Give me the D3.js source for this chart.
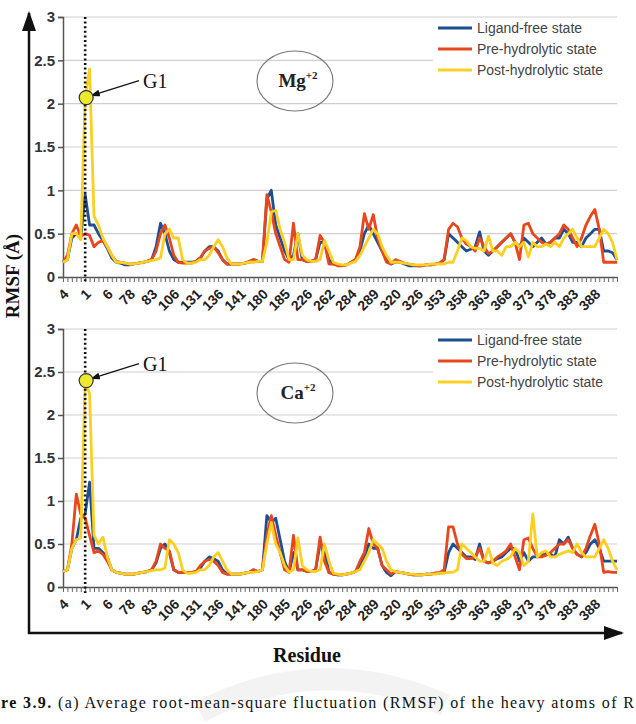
<!DOCTYPE html>
<html>
<head>
<meta charset="utf-8">
<script src="https://cdn.jsdelivr.net/npm/d3@7"></script>
<style>
  body { margin: 0; background: #fff; }
  svg { display: block; }
</style>
</head>
<body>
<div id="chart"></div>
<script>
// residue tick labels, one every 5th category
var tickLabels = ["4", "1", "6", "78", "83", "106", "131", "136", "141", "180", "185", "226", "262",
  "284", "289", "320", "326", "353", "358", "363", "368", "373", "378", "383", "388"];
var seriesNames = ["Ligand-free state", "Pre-hydrolytic state", "Post-hydrolytic state"];
var seriesColors = ["#1d4f91", "#e8471d", "#fbd022"];

// Mg+2 panel
var mgFree = [0.17,0.2,0.45,0.5,0.45,0.95,0.6,0.6,0.5,0.42,
  0.33,0.22,0.17,0.16,0.14,0.14,0.15,0.16,0.17,0.18,
  0.2,0.35,0.62,0.5,0.3,0.2,0.17,0.17,0.17,0.17,
  0.18,0.22,0.3,0.35,0.35,0.3,0.2,0.15,0.15,0.15,
  0.15,0.16,0.17,0.2,0.18,0.18,0.9,1.0,0.6,0.45,
  0.3,0.2,0.25,0.5,0.2,0.18,0.18,0.2,0.4,0.4,
  0.2,0.15,0.14,0.13,0.14,0.17,0.2,0.3,0.5,0.6,
  0.5,0.4,0.3,0.2,0.15,0.17,0.17,0.15,0.13,0.13,
  0.13,0.13,0.14,0.14,0.15,0.16,0.2,0.5,0.45,0.4,
  0.35,0.3,0.32,0.35,0.52,0.3,0.25,0.3,0.35,0.4,
  0.45,0.5,0.4,0.35,0.45,0.4,0.35,0.4,0.45,0.38,
  0.4,0.45,0.45,0.55,0.5,0.4,0.4,0.35,0.45,0.5,
  0.55,0.55,0.3,0.3,0.28,0.2];
var mgPre = [0.17,0.25,0.5,0.6,0.47,0.5,0.48,0.35,0.4,0.42,
  0.35,0.25,0.18,0.17,0.16,0.15,0.15,0.16,0.17,0.18,
  0.2,0.3,0.5,0.6,0.45,0.25,0.17,0.16,0.16,0.16,
  0.18,0.22,0.3,0.33,0.35,0.28,0.2,0.15,0.15,0.15,
  0.15,0.16,0.18,0.2,0.18,0.18,0.95,0.75,0.5,0.35,
  0.2,0.17,0.62,0.2,0.2,0.18,0.18,0.2,0.48,0.4,
  0.15,0.15,0.13,0.13,0.14,0.17,0.2,0.35,0.73,0.55,
  0.72,0.45,0.3,0.17,0.15,0.2,0.18,0.16,0.15,0.14,
  0.13,0.13,0.14,0.14,0.15,0.16,0.2,0.55,0.62,0.58,
  0.45,0.38,0.35,0.3,0.45,0.35,0.27,0.3,0.35,0.4,
  0.45,0.5,0.4,0.2,0.6,0.62,0.5,0.45,0.4,0.38,
  0.4,0.45,0.5,0.6,0.55,0.45,0.35,0.45,0.6,0.7,
  0.78,0.55,0.17,0.17,0.17,0.17];
var mgPost = [0.17,0.2,0.5,0.5,0.43,2.07,2.4,0.7,0.6,0.45,
  0.35,0.25,0.17,0.17,0.16,0.15,0.15,0.16,0.17,0.18,
  0.19,0.2,0.22,0.5,0.55,0.45,0.45,0.2,0.16,0.16,
  0.17,0.2,0.2,0.25,0.35,0.43,0.35,0.22,0.15,0.15,
  0.15,0.16,0.17,0.17,0.18,0.18,0.4,0.75,0.77,0.55,
  0.4,0.2,0.2,0.5,0.25,0.2,0.18,0.18,0.2,0.42,
  0.3,0.17,0.15,0.14,0.14,0.16,0.18,0.25,0.35,0.45,
  0.55,0.5,0.35,0.25,0.17,0.17,0.17,0.16,0.15,0.14,
  0.14,0.14,0.14,0.15,0.15,0.15,0.15,0.17,0.17,0.3,
  0.45,0.42,0.35,0.33,0.33,0.3,0.47,0.3,0.3,0.25,
  0.35,0.35,0.4,0.35,0.4,0.23,0.4,0.35,0.35,0.38,
  0.35,0.4,0.35,0.45,0.5,0.55,0.45,0.35,0.35,0.35,
  0.35,0.45,0.55,0.5,0.4,0.2];

// Ca+2 panel
var caFree = [0.18,0.2,0.45,0.55,0.8,0.85,1.22,0.45,0.45,0.4,
  0.35,0.2,0.17,0.16,0.15,0.15,0.15,0.16,0.17,0.18,
  0.2,0.28,0.45,0.5,0.4,0.2,0.17,0.17,0.17,0.17,
  0.18,0.22,0.3,0.35,0.33,0.3,0.2,0.15,0.15,0.15,
  0.15,0.16,0.17,0.2,0.18,0.2,0.83,0.75,0.8,0.55,
  0.3,0.17,0.4,0.2,0.2,0.18,0.18,0.2,0.5,0.45,
  0.17,0.15,0.14,0.14,0.15,0.16,0.18,0.25,0.35,0.5,
  0.45,0.45,0.25,0.17,0.13,0.18,0.17,0.16,0.15,0.14,
  0.14,0.14,0.15,0.15,0.16,0.16,0.17,0.4,0.5,0.45,
  0.4,0.35,0.35,0.32,0.5,0.3,0.28,0.3,0.33,0.35,
  0.4,0.45,0.45,0.3,0.4,0.3,0.35,0.35,0.38,0.4,
  0.38,0.35,0.55,0.5,0.58,0.45,0.38,0.35,0.4,0.5,
  0.55,0.45,0.3,0.3,0.3,0.3];
var caPre = [0.18,0.2,0.5,1.08,0.85,0.8,0.6,0.4,0.42,0.38,
  0.3,0.2,0.17,0.16,0.15,0.15,0.15,0.16,0.17,0.18,
  0.2,0.3,0.5,0.45,0.42,0.2,0.17,0.17,0.17,0.17,
  0.18,0.25,0.3,0.32,0.3,0.25,0.17,0.15,0.15,0.15,
  0.15,0.16,0.17,0.2,0.18,0.2,0.6,0.83,0.6,0.4,
  0.2,0.17,0.6,0.2,0.2,0.18,0.18,0.2,0.58,0.3,
  0.17,0.15,0.14,0.14,0.15,0.16,0.18,0.3,0.4,0.68,
  0.5,0.45,0.25,0.2,0.15,0.18,0.17,0.16,0.15,0.14,
  0.14,0.14,0.15,0.15,0.16,0.17,0.2,0.7,0.7,0.5,
  0.38,0.33,0.33,0.35,0.45,0.3,0.28,0.3,0.35,0.38,
  0.42,0.5,0.35,0.2,0.55,0.57,0.45,0.35,0.35,0.37,
  0.4,0.45,0.5,0.5,0.55,0.45,0.38,0.35,0.45,0.6,
  0.73,0.5,0.17,0.18,0.17,0.17];
var caPost = [0.18,0.2,0.45,0.55,0.57,2.38,2.25,0.6,0.5,0.58,
  0.35,0.2,0.17,0.16,0.15,0.15,0.15,0.16,0.17,0.18,
  0.19,0.2,0.2,0.22,0.55,0.5,0.4,0.2,0.16,0.16,
  0.17,0.2,0.2,0.25,0.35,0.4,0.3,0.2,0.15,0.15,
  0.15,0.16,0.17,0.17,0.18,0.2,0.5,0.75,0.5,0.4,
  0.25,0.17,0.2,0.57,0.25,0.2,0.18,0.18,0.2,0.5,
  0.3,0.16,0.15,0.14,0.15,0.16,0.18,0.2,0.3,0.4,
  0.55,0.5,0.45,0.3,0.2,0.18,0.17,0.16,0.15,0.15,
  0.14,0.14,0.15,0.15,0.15,0.16,0.16,0.17,0.17,0.2,
  0.5,0.45,0.4,0.35,0.3,0.3,0.45,0.28,0.25,0.3,
  0.32,0.35,0.45,0.4,0.25,0.3,0.85,0.35,0.4,0.42,
  0.35,0.35,0.38,0.4,0.42,0.4,0.5,0.4,0.35,0.35,
  0.35,0.45,0.55,0.45,0.3,0.2];

var yTicks = [0, 0.5, 1, 1.5, 2, 2.5, 3];
var g1Index = 5;

var width = 636, height = 724;
var svg = d3.select('#chart').append('svg')
  .attr('width', width)
  .attr('height', height);

svg.append('defs').append('marker')
  .attr('id', 'head')
  .attr('viewBox', '0 0 10 10')
  .attr('refX', 9).attr('refY', 5)
  .attr('markerWidth', 8).attr('markerHeight', 8)
  .attr('orient', 'auto')
  .append('path').attr('d', 'M0,1.5 L10,5 L0,8.5 Z').attr('fill', '#111');

// faint watermark arc, drawn first so it stays behind everything
svg.append('path')
  .attr('d', 'M200,712 Q320,650 445,705')
  .attr('fill', 'none').attr('stroke', '#f3f3f3').attr('stroke-width', 22);

var n = mgFree.length;
var x = d3.scaleLinear().domain([0, n - 1]).range([63, 617]);

function drawPanel(top, bottom, series, ion, g1Value, g1Text) {
  var y = d3.scaleLinear().domain([0, 3]).range([bottom, top]);
  var g = svg.append('g');

  // gridlines
  g.selectAll('line.grid')
    .data(yTicks.slice(1))
    .enter().append('line')
    .attr('x1', x(0)).attr('x2', x(n - 1))
    .attr('y1', function (d) { return y(d); })
    .attr('y2', function (d) { return y(d); })
    .attr('stroke', '#cfcfcf').attr('stroke-width', 1.2);

  // legend box hides part of grid
  g.append('rect')
    .attr('x', 433).attr('y', y(3) + 3)
    .attr('width', 184).attr('height', 66)
    .attr('fill', '#fff');

  // y axis
  var yAxis = d3.axisLeft(y).tickValues(yTicks).tickSize(5).tickPadding(3)
    .tickFormat(function (d) { return d; });
  var ya = g.append('g').attr('transform', 'translate(' + x(0) + ',0)').call(yAxis);
  ya.select('.domain').attr('stroke', '#555').attr('stroke-width', 1.5);
  ya.selectAll('.tick line').attr('stroke', '#555').attr('stroke-width', 1.5);
  ya.selectAll('text')
    .attr('font-family', 'Liberation Sans, Arial, sans-serif')
    .attr('font-weight', 'bold').attr('font-size', 15).attr('fill', '#333');

  // x axis
  var idx = d3.range(n);
  var xAxis = d3.axisBottom(x).tickValues(idx).tickSize(5).tickSizeOuter(0)
    .tickFormat(function (d) { return d % 5 === 0 ? tickLabels[d / 5] : ''; });
  var xa = g.append('g').attr('transform', 'translate(0,' + bottom + ')').call(xAxis);
  xa.select('.domain').attr('stroke', '#555').attr('stroke-width', 1.5);
  xa.selectAll('.tick line').attr('stroke', '#666').attr('stroke-width', 1);
  xa.selectAll('text')
    .attr('font-family', 'Liberation Sans, Arial, sans-serif')
    .attr('font-weight', 'bold').attr('font-size', 14).attr('fill', '#222')
    .attr('text-anchor', 'end')
    .attr('dy', 0)
    .attr('y', 0)
    .attr('transform', 'translate(6,18) rotate(-45)');

  // series lines
  var line = d3.line()
    .x(function (d, i) { return x(i); })
    .y(function (d) { return y(d); });
  g.selectAll('path.series')
    .data(series)
    .enter().append('path')
    .attr('d', function (d) { return line(d); })
    .attr('fill', 'none')
    .attr('stroke', function (d, i) { return seriesColors[i]; })
    .attr('stroke-width', 2.8)
    .attr('stroke-linejoin', 'round');

  // legend
  var leg = g.selectAll('g.leg')
    .data(seriesNames)
    .enter().append('g')
    .attr('transform', function (d, i) { return 'translate(438,' + (y(3) + 11 + i * 21) + ')'; });
  leg.append('line')
    .attr('x1', 0).attr('x2', 34)
    .attr('stroke', function (d, i) { return seriesColors[i]; })
    .attr('stroke-width', 3.2);
  leg.append('text')
    .attr('x', 39).attr('dy', '0.36em')
    .attr('font-family', 'Liberation Sans, Arial, sans-serif')
    .attr('font-size', 14).attr('fill', '#444')
    .text(function (d) { return d; });

  // ion ellipse
  var ey = y(3) + 64;
  g.append('ellipse')
    .attr('cx', 295).attr('cy', ey)
    .attr('rx', 38).attr('ry', 30)
    .attr('fill', 'none').attr('stroke', '#777').attr('stroke-width', 1.1);
  var t = g.append('text')
    .attr('x', 298).attr('y', ey + 6)
    .attr('text-anchor', 'middle')
    .attr('font-family', 'Liberation Serif, Times New Roman, serif')
    .attr('font-weight', 'bold').attr('font-size', 19).attr('fill', '#222');
  t.append('tspan').text(ion);
  t.append('tspan').attr('dy', -8).attr('font-size', 11).text('+2');

  // G1 dotted marker
  g.append('line')
    .attr('x1', x(g1Index)).attr('x2', x(g1Index))
    .attr('y1', y(3)).attr('y2', bottom + 6)
    .attr('stroke', '#111').attr('stroke-width', 2.6)
    .attr('stroke-dasharray', '2,2.6');

  var cy = y(g1Value);
  g.append('line')
    .attr('x1', 139).attr('y1', cy - 17)
    .attr('x2', x(g1Index) + 6).attr('y2', cy - 2)
    .attr('stroke', '#111').attr('stroke-width', 1.2)
    .attr('marker-end', 'url(#head)');
  g.append('circle')
    .attr('cx', x(g1Index) + 1).attr('cy', cy)
    .attr('r', 7)
    .attr('fill', '#ecea2e').attr('stroke', '#333').attr('stroke-width', 1.2);
  g.append('text')
    .attr('x', 143).attr('y', cy - 10)
    .attr('font-family', 'Liberation Serif, Times New Roman, serif')
    .attr('font-size', 20).attr('fill', '#111')
    .text(g1Text);
}

drawPanel(17, 277, [mgFree, mgPre, mgPost], 'Mg', 2.07, 'G1');
drawPanel(329, 587, [caFree, caPre, caPost], 'Ca', 2.4, 'G1');

// outer arrows
svg.append('line')
  .attr('x1', 29).attr('y1', 634).attr('x2', 29).attr('y2', 13)
  .attr('stroke', '#111').attr('stroke-width', 2.5)
  .attr('marker-end', 'url(#head)');
svg.append('line')
  .attr('x1', 28).attr('y1', 633).attr('x2', 622).attr('y2', 633)
  .attr('stroke', '#111').attr('stroke-width', 2.5)
  .attr('marker-end', 'url(#head)');

svg.append('text')
  .attr('transform', 'translate(19,276) rotate(-90)')
  .attr('text-anchor', 'middle')
  .attr('font-family', 'Liberation Serif, Times New Roman, serif')
  .attr('font-weight', 'bold').attr('font-size', 19).attr('fill', '#111')
  .text('RMSF (Å)');

svg.append('text')
  .attr('x', 307).attr('y', 662)
  .attr('text-anchor', 'middle')
  .attr('font-family', 'Liberation Serif, Times New Roman, serif')
  .attr('font-weight', 'bold').attr('font-size', 20).attr('fill', '#111')
  .text('Residue');

var cap = svg.append('text')
  .attr('x', 1).attr('y', 708)
  .attr('font-family', 'Liberation Serif, Times New Roman, serif')
  .attr('font-size', 16).attr('fill', '#111')
  .attr('textLength', 633).attr('lengthAdjust', 'spacing');
cap.append('tspan').attr('font-weight', 'bold').text('re 3.9.');
cap.append('tspan').text(' (a) Average root-mean-square fluctuation (RMSF) of the heavy atoms of R');
</script>
</body>
</html>
